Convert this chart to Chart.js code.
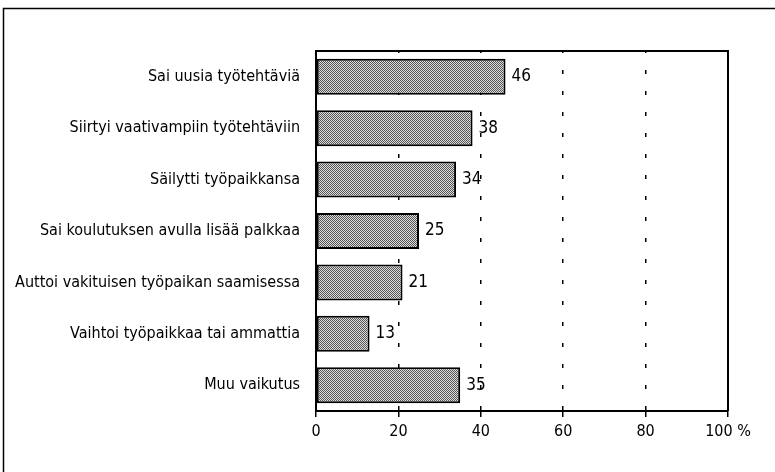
<!DOCTYPE html>
<html>
<head>
<meta charset="utf-8">
<script src="https://cdn.jsdelivr.net/npm/chart.js@4"></script>
<style>
  body { margin: 0; background: #fff; }
  #wrap { width: 775px; height: 472px; position: relative; }
</style>
</head>
<body>
<div id="wrap"><canvas id="chart"></canvas></div>
<script>
const categories = [
  'Sai uusia työtehtäviä',
  'Siirtyi vaativampiin työtehtäviin',
  'Säilytti työpaikkansa',
  'Sai koulutuksen avulla lisää palkkaa',
  'Auttoi vakituisen työpaikan saamisessa',
  'Vaihtoi työpaikkaa tai ammattia',
  'Muu vaikutus'
];
const values = [46, 38, 34, 25, 21, 13, 35];
const xTicks = [0, 20, 40, 60, 80, 100];
const unit = '%';

const FONT = "'Liberation Sans Narrow', 'DejaVu Sans Condensed', sans-serif";

// harmaa rasterikuvio palkeille
function stipple() {
  const c = document.createElement('canvas');
  c.width = 2; c.height = 2;
  const g = c.getContext('2d');
  g.fillStyle = '#dcdcdc'; g.fillRect(0, 0, 2, 2);
  g.fillStyle = '#555'; g.fillRect(0, 0, 1, 1); g.fillRect(1, 1, 1, 1);
  return g.createPattern(c, 'repeat');
}

// kehys ja arvotekstit
const extras = {
  id: 'extras',
  beforeDraw(chart) {
    const ctx = chart.ctx;
    ctx.save();
    ctx.strokeStyle = '#000';
    ctx.lineWidth = 1.5;
    ctx.beginPath();
    ctx.moveTo(3.5, 480);
    ctx.lineTo(3.5, 8.5);
    ctx.lineTo(780, 8.5);
    ctx.stroke();
    ctx.restore();
  },
  afterDatasetsDraw(chart) {
    const ctx = chart.ctx;
    const a = chart.chartArea;
    ctx.save();
    ctx.strokeStyle = '#000';
    ctx.lineWidth = 2;
    ctx.beginPath();
    ctx.moveTo(a.left, a.top);
    ctx.lineTo(a.right, a.top);
    ctx.lineTo(a.right, a.bottom);
    ctx.stroke();
    ctx.fillStyle = '#000';
    ctx.font = '17px ' + FONT;
    ctx.textBaseline = 'middle';
    chart.getDatasetMeta(0).data.forEach((bar, i) => {
      ctx.fillText(values[i], bar.x + 6, bar.y);
    });
    ctx.restore();
  }
};

new Chart(document.getElementById('chart'), {
  type: 'bar',
  data: {
    labels: categories,
    datasets: [{
      data: values,
      backgroundColor: stipple(),
      borderColor: '#000',
      borderWidth: 2,
      borderSkipped: false,
      categoryPercentage: 1,
      barPercentage: 0.7
    }]
  },
  options: {
    indexAxis: 'y',
    responsive: true,
    maintainAspectRatio: false,
    animation: false,
    layout: { padding: { top: 51, right: 47, left: 0, bottom: 0 } },
    plugins: { legend: { display: false }, tooltip: { enabled: false } },
    scales: {
      x: {
        min: 0, max: 100,
        afterBuildTicks: s => { s.ticks = xTicks.map(v => ({ value: v })); },
        afterFit: s => { s.height = 61; },
        ticks: {
          color: '#000',
          font: { family: FONT, size: 16 },
          padding: 5,
          callback: v => v === 100 ? v + ' ' + unit : v
        },
        grid: {
          color: c => (c.tick && (c.tick.value === 0 || c.tick.value === 100)) ? 'rgba(0,0,0,0)' : '#000',
          lineWidth: 1.5,
          tickColor: '#000',
          tickLength: 6,
          tickBorderDash: []
        },
        border: { color: '#000', width: 2, dash: [4, 17], dashOffset: 2 }
      },
      y: {
        afterFit: s => { s.width = 316; },
        ticks: {
          color: '#000',
          font: { family: FONT, size: 16 },
          padding: 8
        },
        grid: { display: false },
        border: { color: '#000', width: 2 }
      }
    }
  },
  plugins: [extras]
});
</script>
</body>
</html>
